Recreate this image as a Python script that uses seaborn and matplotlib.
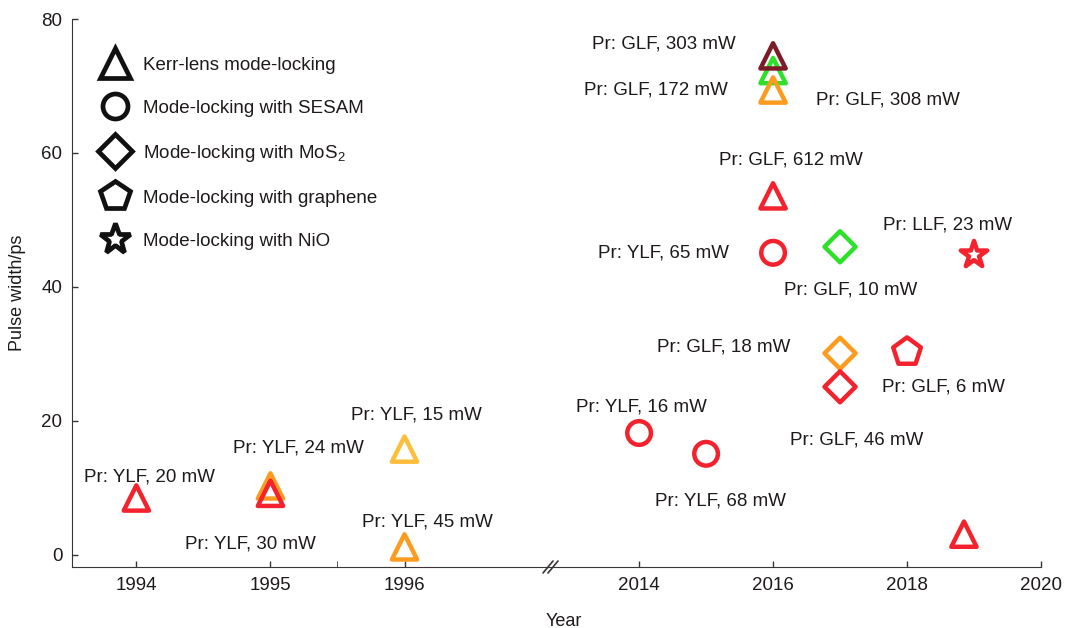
import matplotlib
matplotlib.use('Agg')
from matplotlib import pyplot as plt
from matplotlib.lines import Line2D
import seaborn as sns
import pandas as pd

# %% data
years = [1994, 1995, 1995, 1996, 1996, 2014, 2015, 2016, 2016, 2016,
         2016, 2016, 2017, 2017, 2017, 2018, 2018.85, 2019]
widths = [8.5, 10.3, 9.2, 15.8, 1.2, 18.2, 15.1, 72.3, 69.4, 74.5,
          53.6, 45.1, 46.0, 30.1, 25.1, 30.3, 3.1, 44.8]
methods = ["Kerr", "Kerr", "Kerr", "Kerr", "Kerr", "SESAM", "SESAM", "Kerr", "Kerr", "Kerr",
           "Kerr", "SESAM", "MoS2", "MoS2", "MoS2", "graphene", "Kerr", "NiO"]
tones = ["red", "orange", "red", "light", "orange", "red", "red", "green", "orange", "maroon",
         "red", "red", "green", "orange", "red", "red", "red", "red"]
labels = ["Pr: YLF, 20 mW", "Pr: YLF, 24 mW", "Pr: YLF, 30 mW", "Pr: YLF, 15 mW", "Pr: YLF, 45 mW",
          "Pr: YLF, 16 mW", "Pr: YLF, 68 mW", "Pr: GLF, 308 mW", "Pr: GLF, 172 mW", "Pr: GLF, 303 mW",
          "Pr: GLF, 612 mW", "Pr: YLF, 65 mW", "Pr: GLF, 10 mW", "Pr: GLF, 18 mW", "Pr: GLF, 46 mW",
          "Pr: GLF, 6 mW", "", "Pr: LLF, 23 mW"]
# where each label text sits (data coords)
text_x = [1994.10, 1995.21, 1994.85, 1996.09, 1996.17, 2014.04, 2015.21, 2017.72, 2014.25, 2014.37,
          2016.27, 2014.37, 2017.16, 2015.27, 2017.25, 2018.55, 2018.85, 2018.60]
text_y = [11.6, 16.0, 1.6, 20.9, 4.9, 22.1, 8.1, 67.9, 69.4, 76.3,
          59.0, 45.1, 39.6, 31.0, 17.2, 25.1, 0, 49.3]

legend_names = ["Kerr-lens mode-locking", "Mode-locking with SESAM", "Mode-locking with MoS$_2$",
                "Mode-locking with graphene", "Mode-locking with NiO"]

# %% styles
palette = {"red": "#f4222c", "orange": "#fd9b1f", "light": "#fdbe3c",
           "green": "#2ee02a", "maroon": "#7c1c26"}
markers = {"Kerr": "^", "SESAM": "o", "MoS2": "D", "graphene": "p", "NiO": "*"}
sizes = {"Kerr": 330, "SESAM": 290, "MoS2": 250, "graphene": 440, "NiO": 400}

sns.set_style("ticks")
plt.rcParams['font.family'] = ['Liberation Sans', 'DejaVu Sans']
plt.rcParams['mathtext.fontset'] = 'custom'
plt.rcParams['mathtext.rm'] = 'Liberation Sans'
plt.rcParams['mathtext.it'] = 'Liberation Sans'
ink = "#1e1a1a"
spine = "#3a3636"

df = pd.DataFrame({"year": years, "width": widths, "method": methods, "tone": tones,
                   "label": labels, "tx": text_x, "ty": text_y})

W, H = 1079, 628
fig = plt.figure(figsize=(W/100, H/100), dpi=100)
bottom, height = 1 - 567/H, (567 - 19)/H
axL = fig.add_axes([72/W, bottom, 476/W, height])
axR = fig.add_axes([548/W, bottom, 493/W, height])

for ax in (axL, axR):
    ax.set_ylim(-1.8, 80)
    ax.spines['top'].set_visible(False)
    ax.spines['right'].set_visible(False)
    ax.spines['bottom'].set_color(spine)
    ax.spines['left'].set_color(spine)
    ax.tick_params(direction='in', length=4, width=1, color=spine, labelsize=13.5,
                   labelcolor=ink, pad=7)
    ax.patch.set_alpha(0)

axL.set_xlim(1993.52, 1997.07)
axL.set_xticks([1994, 1995, 1996])
axL.set_xticks([1995.5], minor=True)
axL.tick_params(which='minor', direction='in', length=4, color=spine)
axL.set_yticks([0, 20, 40, 60, 80])

axR.set_xlim(2012.64, 2020)
axR.set_xticks([2014, 2016, 2018, 2020])
axR.spines['left'].set_visible(False)
axR.tick_params(axis='y', left=False, labelleft=False)

for _, row in df.iterrows():
    ax = axL if row["year"] < 2000 else axR
    sns.scatterplot(x=[row["year"]], y=[row["width"]], ax=ax,
                    marker=markers[row["method"]], s=sizes[row["method"]],
                    facecolor="none", edgecolor=palette[row["tone"]],
                    linewidth=3.2, legend=False, clip_on=False)
    if row["label"]:
        ax.text(row["tx"], row["ty"], row["label"], ha="center", va="center",
                fontsize=13.5, color=ink)

for ax in (axL, axR):
    ax.set_xlabel("")
    ax.set_ylabel("")

# legend
handles = [Line2D([], [], linestyle="none", marker=markers[m], markersize=ms,
                  markerfacecolor="none", markeredgecolor="#111111", markeredgewidth=3.4)
           for m, ms in zip(["Kerr", "SESAM", "MoS2", "graphene", "NiO"], [22, 18, 17, 22, 23])]
axL.legend(handles, legend_names, loc="upper left", bbox_to_anchor=(0.061, 0.931),
           frameon=False, fontsize=13.5, handlelength=1.5, handletextpad=0.75,
           labelspacing=1.38, borderpad=0, borderaxespad=0, labelcolor=ink)

# axis break marks
for x0 in (543, 548):
    fig.add_artist(Line2D([x0/W, (x0 + 10)/W], [1 - 573/H, 1 - 561/H], color=spine, lw=1.2))

fig.text(564/W, 1 - 621/H, "Year", ha="center", va="center", fontsize=13, color=ink)
fig.text(18/W, 1 - 293/H, "Pulse width/ps", ha="center", va="center", rotation=90,
         fontsize=13, color=ink)

plt.savefig("out.png", dpi=100)
plt.close()
